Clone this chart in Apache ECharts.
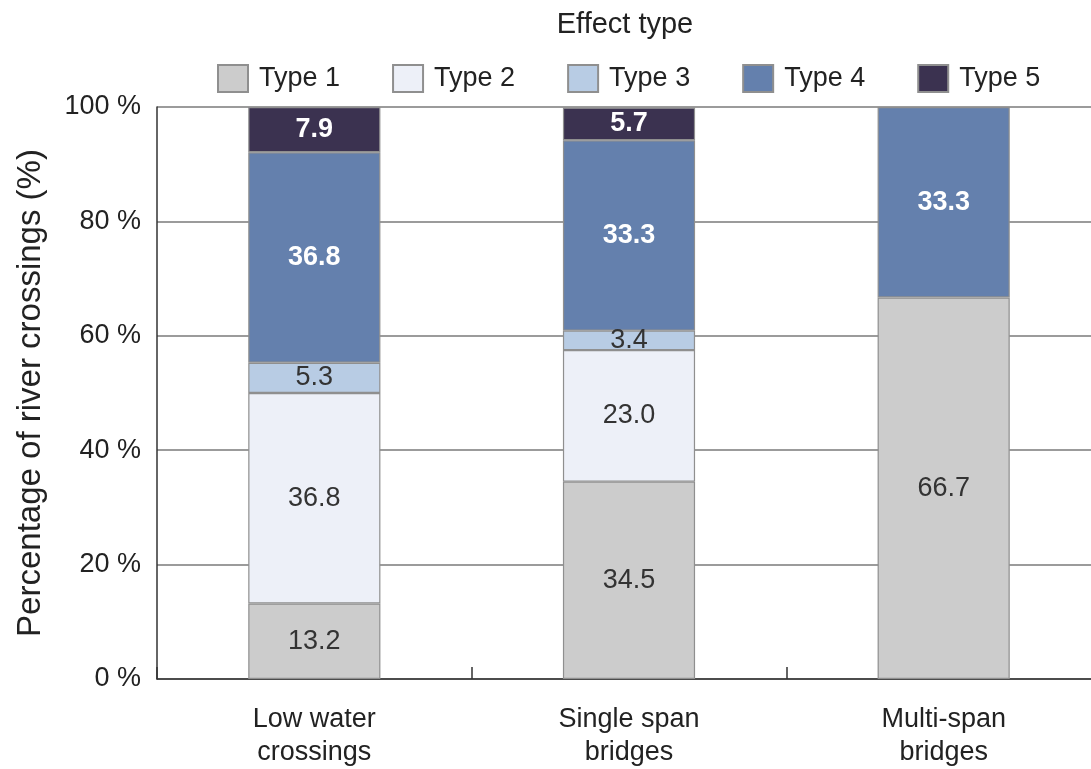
<!DOCTYPE html>
<html>
<head>
<meta charset="utf-8">
<script src="https://cdn.jsdelivr.net/npm/echarts@6/dist/echarts.min.js"></script>
<style>
html,body{margin:0;padding:0;background:#fff;overflow:hidden;}
#chart{width:1101px;height:769px;}
</style>
</head>
<body>
<div id="chart"></div>
<script>
const categories = ['Low water\ncrossings', 'Single span\nbridges', 'Multi-span\nbridges'];
const seriesNames = ['Type 1', 'Type 2', 'Type 3', 'Type 4', 'Type 5'];
const type1 = [13.2, 34.5, 66.7];
const type2 = [36.8, 23.0, 0];
const type3 = [5.3, 3.4, 0];
const type4 = [36.8, 33.3, 33.3];
const type5 = [7.9, 5.7, 0];
const yTicks = [0, 20, 40, 60, 80, 100];

const values = [type1, type2, type3, type4, type5];
const colors = ['#cccccc', '#edf0f8', '#b8cce4', '#6480ad', '#3b3250'];
const labelColors = ['#333', '#333', '#333', '#fff', '#fff'];
const labelWeights = ['normal', 'normal', 'normal', 'bold', 'bold'];
const FONT = 'Liberation Sans, Arial, sans-serif';

const series = seriesNames.map((name, i) => ({
  name: name,
  type: 'bar',
  stack: 'total',
  barWidth: '42%',
  data: values[i].map(v => v === 0 ? '-' : v),
  itemStyle: { color: colors[i], borderColor: '#8f8f8f', borderWidth: 1.2 },
  label: {
    show: true,
    position: 'inside',
    fontFamily: FONT,
    fontSize: 27,
    color: labelColors[i],
    fontWeight: labelWeights[i],
    formatter: p => Number(p.value).toFixed(1)
  }
}));

const chart = echarts.init(document.getElementById('chart'), null, { renderer: 'canvas' });
chart.setOption({
  animation: false,
  backgroundColor: '#ffffff',
  title: {
    text: 'Effect type',
    left: 620,
    textAlign: 'center',
    top: 5,
    textStyle: { fontFamily: FONT, fontSize: 29, fontWeight: 'normal', color: '#222' }
  },
  legend: {
    data: seriesNames,
    left: 212,
    top: 59,
    icon: 'rect',
    itemWidth: 30,
    itemHeight: 27,
    itemGap: 52,
    textStyle: { fontFamily: FONT, fontSize: 27, color: '#222', padding: [0, 0, 0, 6] }
  },
  grid: { left: 157, top: 107, right: 0, height: 574, containLabel: false },
  xAxis: {
    type: 'category',
    data: categories,
    axisLine: { show: true, lineStyle: { color: '#333', width: 1.5 } },
    axisTick: { show: true, inside: true, length: 12, alignWithLabel: false, lineStyle: { color: '#333', width: 1.5 } },
    axisLabel: { fontFamily: FONT, fontSize: 27, color: '#222', margin: 24, lineHeight: 33 }
  },
  yAxis: {
    type: 'value',
    min: 0,
    max: 100,
    interval: 20,
    name: 'Percentage of river crossings (%)',
    nameLocation: 'middle',
    nameGap: 110,
    nameTextStyle: { fontFamily: FONT, fontSize: 33, color: '#222' },
    axisLine: { show: true, lineStyle: { color: '#333', width: 1.5 } },
    axisTick: { show: false },
    axisLabel: {
      fontFamily: FONT, fontSize: 27, color: '#222', margin: 16,
      formatter: v => (yTicks.includes(v) ? v + ' %' : '')
    },
    splitLine: { show: true, lineStyle: { color: '#7a7a7a', width: 1.5 } }
  },
  series: series
});
</script>
</body>
</html>
